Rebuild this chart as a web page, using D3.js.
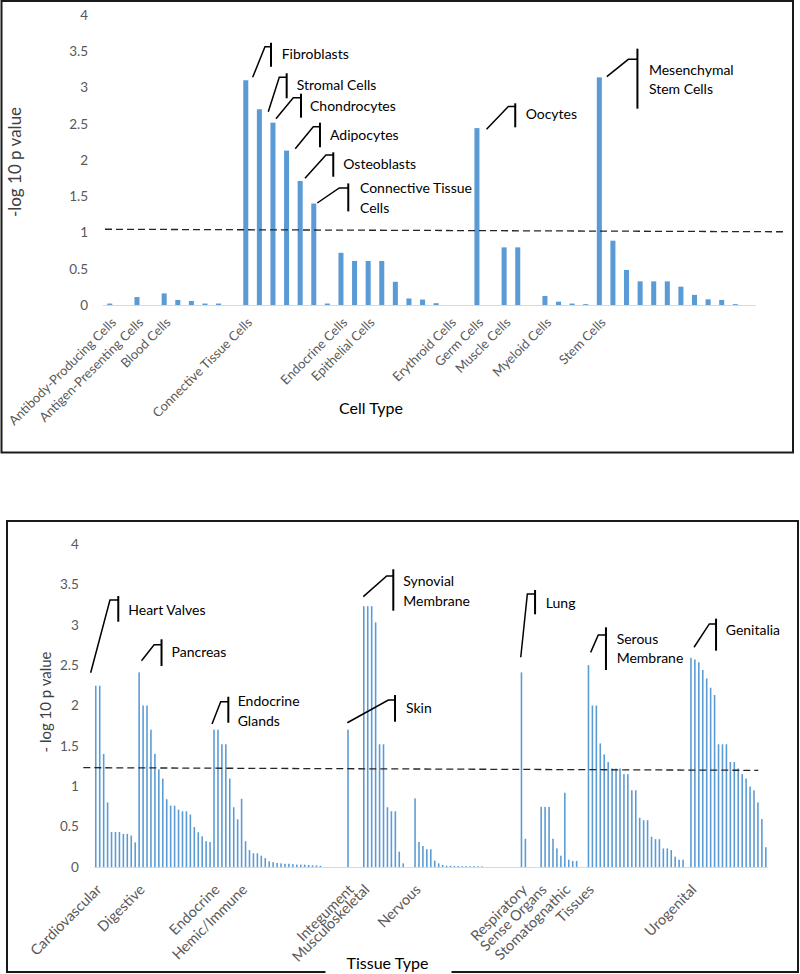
<!DOCTYPE html>
<html>
<head>
<meta charset="utf-8">
<script src="https://cdn.jsdelivr.net/npm/d3@7"></script>
<style>
  body { margin: 0; background: #fff; }
  svg { display: block; font-family: Lato, "Open Sans", sans-serif; }
</style>
</head>
<body>
<script>
// ---- data: cell types (top chart), one slot per category, null = no bar ----
const cellLabels = [
  "Antibody-Producing Cells", "", "Antigen-Presenting Cells", "", "Blood Cells", "", "", "", "", "",
  "Connective Tissue Cells", "", "", "", "", "", "", "Endocrine Cells", "", "Epithelial Cells",
  "", "", "", "", "", "Erythroid Cells", "", "Germ Cells", "", "Muscle Cells",
  "", "", "Myeloid Cells", "", "", "", "Stem Cells", "", "", "",
  "", "", "", "", "", "", "", ""
];
const cellValues = [
  0.02, null, 0.11, null, 0.16, 0.07, 0.055, 0.02, 0.02, null,
  3.10, 2.70, 2.515, 2.13, 1.71, 1.40, 0.02, 0.72, 0.607, 0.607,
  0.607, 0.32, 0.09, 0.075, 0.025, null, null, 2.44, null, 0.795,
  0.795, null, 0.125, 0.046, 0.02, 0.012, 3.14, 0.887, 0.483, 0.326,
  0.326, 0.326, 0.253, 0.14, 0.078, 0.07, 0.012, null
];
const cellThreshold = [1.045, 1.01];
const cellCalloutText = [
  [10, ["Fibroblasts"]],
  [11, ["Stromal Cells"]],
  [12, ["Chondrocytes"]],
  [13, ["Adipocytes"]],
  [14, ["Osteoblasts"]],
  [15, ["Connective Tissue", "Cells"]],
  [27, ["Oocytes"]],
  [36, ["Mesenchymal", "Stem Cells"]]
];

// ---- data: tissue types (bottom chart) ----
const tissueGroups = [
  [0, "Cardiovascular"], [11, "Digestive"], [30, "Endocrine"], [37, "Hemic/Immune"],
  [64, "Integument"], [68, "Musculoskeletal"], [81, "Nervous"], [108, "Respiratory"],
  [113, "Sense Organs"], [119, "Stomatognathic"], [125, "Tissues"], [151, "Urogenital"]
];
const tissueValues = [
  // Cardiovascular
  2.245, 2.245, 1.40, 0.80, 0.433, 0.433, 0.433, 0.41, 0.41, 0.39, 0.305,
  // Digestive
  2.41, 2.0, 2.0, 1.70, 1.40, 1.21, 1.095, 0.84, 0.76, 0.76, 0.71, 0.69, 0.69, 0.65, 0.495, 0.43, 0.38, 0.32, 0.31,
  // Endocrine
  1.70, 1.70, 1.52, 1.52, 1.095, 0.74, 0.59,
  // Hemic/Immune
  0.845, 0.32, 0.21, 0.17, 0.17, 0.14, 0.11, 0.07, 0.06, 0.05, 0.045, 0.04, 0.04, 0.035, 0.03, 0.03, 0.03, 0.025, 0.02, 0.02, 0.015,
  null, null, null, null, null, null,
  // Integument
  1.70, null, null, null,
  // Musculoskeletal
  3.23, 3.23, 3.23, 3.03, 1.52, 1.52, 0.74, 0.69, 0.69, 0.19, 0.045,
  null, null,
  // Nervous
  0.85, 0.31, 0.26, 0.22, 0.22, 0.08, 0.045, 0.025, 0.015, 0.015, 0.012, 0.012, 0.01, 0.01, 0.01, 0.01, 0.008, 0.008,
  null, null, null, null, null, null, null, null, null,
  // Respiratory
  2.41, 0.35, null, null, null,
  // Sense Organs
  0.745, 0.745, 0.745, 0.35, 0.23, 0.14,
  // Stomatognathic
  0.92, 0.09, 0.075, 0.075, null, null,
  // Tissues
  2.50, 2.0, 2.0, 1.53, 1.395, 1.30, 1.22, 1.22, 1.22, 1.15, 1.15, 0.95, 0.95, 0.61, 0.58, 0.58, 0.375, 0.345, 0.345, 0.23, 0.23, 0.21, 0.128, 0.09, 0.09,
  null,
  // Urogenital
  2.59, 2.57, 2.535, 2.44, 2.335, 2.22, 2.13, 1.52, 1.52, 1.52, 1.30, 1.30, 1.22, 1.15, 1.095, 0.995, 0.95, 0.80, 0.594, 0.245
];
const tissueThreshold = [1.23, 1.197];
const tissueCalloutText = [
  [0, ["Heart Valves"]],
  [11, ["Pancreas"]],
  [30, ["Endocrine", "Glands"]],
  [68, ["Synovial", "Membrane"]],
  [64, ["Skin"]],
  [108, ["Lung"]],
  [125, ["Serous", "Membrane"]],
  [151, ["Genitalia"]]
];

const yTicks = [0, 0.5, 1, 1.5, 2, 2.5, 3, 3.5, 4];

// ---- layout (px offsets from the bar top for each callout) ----
// [startDx, startDy, elbowDx, elbowDy, barX, barY0, barY1, textX, textY...]
const cellCalloutShape = [
  [6.9, -3, 19.2, -33.5, 25.2, -37.5, -13.5, 35.9, [-26]],
  [8.9, 2.5, 19.9, -32, 27.3, -36, -11, 37.3, [-24.3]],
  [3, -4, 20.3, -25, 28, -29, -5, 37, [-16.3]],
  [8.7, -1.9, 26.7, -23.9, 33.4, -27.9, -3.3, 43.4, [-15.6]],
  [4.8, -2.7, 25.8, -26, 33.1, -28.7, -4.3, 43.1, [-17]],
  [3.5, -0.5, 25.5, -15.5, 34.5, -20.1, 7.9, 46.2, [-15.1, 4.5]],
  [9.6, 1.2, 31.4, -21.5, 38.3, -24.8, -0.8, 48.7, [-13.8]],
  [7.5, -0.7, 29, -18, 38.1, -28.7, 31.3, 49.6, [-7.3, 11.3]]
];
const tissueCalloutShape = [
  [-5.1, -13, 14.2, -85.7, 22.5, -89.7, -64, 32.5, [-75.7]],
  [2.4, -11.7, 15, -27.7, 22.4, -33.1, -6.4, 32.4, [-20.7]],
  [-2, -5.7, 6.7, -28, 14.3, -33, -7, 23.7, [-29, -9]],
  [-0.5, -9.5, 22.9, -30.2, 29.5, -36.9, 4.5, 39.5, [-25.5, -5.5]],
  [-0.7, -7, 40.3, -29.7, 47, -34.7, -8, 58, [-21.4]],
  [-0.7, -15.1, 5.9, -78.4, 13.6, -82.4, -58.1, 24.3, [-69.7]],
  [2.2, -12.8, 9.8, -30.1, 17.5, -37.8, 4.9, 28.2, [-26.1, -6.8]],
  [3.1, -10.6, 18.4, -33.9, 25.1, -39.2, -7.2, 34.8, [-27.9]]
];

const W = 800, H = 974;
const barColor = "#5B9BD5";
const svg = d3.select("body").append("svg").attr("width", W).attr("height", H);

function drawPanel(p) {
  const g = svg.append("g");
  const n = p.values.length;

  // frame
  g.append("rect")
    .attr("x", p.frame[0]).attr("y", p.frame[1])
    .attr("width", p.frame[2]).attr("height", p.frame[3])
    .attr("fill", "none").attr("stroke", "#1a1a1a").attr("stroke-width", 2);

  const x = d3.scaleBand()
    .domain(d3.range(n))
    .range([p.x0, p.x1])
    .paddingInner(p.pad)
    .paddingOuter(p.pad / 2);
  const y = d3.scaleLinear().domain([0, 4]).range([p.base, p.top]);
  const cx = i => x(i) + x.bandwidth() / 2;

  // y axis labels only
  const yAxis = g.append("g")
    .attr("transform", `translate(${p.x0},0)`)
    .call(d3.axisLeft(y).tickValues(yTicks).tickSize(0).tickPadding(15).tickFormat(d3.format("")));
  yAxis.select(".domain").remove();
  yAxis.selectAll("text")
    .attr("fill", "#595959")
    .style("font-size", "13.5px")
    .style("font-family", "Lato, sans-serif");

  // bars
  g.append("g")
    .selectAll("rect")
    .data(p.values.map((v, i) => ({ v, i })).filter(d => d.v != null))
    .join("rect")
    .attr("x", d => x(d.i))
    .attr("width", x.bandwidth())
    .attr("y", d => y(d.v))
    .attr("height", d => y(0) - y(d.v))
    .attr("fill", barColor);

  // x axis
  const xAxis = g.append("g")
    .attr("transform", `translate(0,${p.base})`)
    .call(d3.axisBottom(x)
      .tickValues(p.labels.map(d => d[0]))
      .tickSize(0)
      .tickFormat(i => p.labels.find(d => d[0] === i)[1]));
  xAxis.select(".domain").attr("stroke", "#D9D9D9").attr("stroke-width", 1.2)
    .attr("d", `M${p.x0},0.5H${p.x1}`);
  xAxis.selectAll("text")
    .attr("x", 0).attr("y", 0).attr("dy", "0.35em")
    .attr("text-anchor", "end")
    .attr("fill", "#595959")
    .style("font-size", p.labelSize + "px")
    .style("font-family", "Lato, sans-serif")
    .attr("transform", `translate(${p.labelDx},${p.labelDy}) rotate(-45)`);

  // threshold (dashed)
  g.append("line")
    .attr("x1", p.dashX[0]).attr("x2", p.dashX[1])
    .attr("y1", y(p.threshold[0])).attr("y2", y(p.threshold[1]))
    .attr("stroke", "#262626").attr("stroke-width", 1.3)
    .attr("stroke-dasharray", "7,4");

  // callouts
  p.callouts.forEach((c, k) => {
    const s = p.shapes[k];
    const bx = cx(c[0]), by = y(p.values[c[0]]);
    const cg = g.append("g").attr("transform", `translate(${bx},${by})`);
    cg.append("path")
      .attr("d", `M${s[0]},${s[1]}L${s[2]},${s[3]}H${s[4]}`)
      .attr("fill", "none").attr("stroke", "#000").attr("stroke-width", 1.5);
    cg.append("line")
      .attr("x1", s[4]).attr("x2", s[4]).attr("y1", s[5]).attr("y2", s[6])
      .attr("stroke", "#000").attr("stroke-width", 2);
    c[1].forEach((t, j) => {
      cg.append("text")
        .attr("x", s[7]).attr("y", s[8][j]).attr("dy", "0.35em")
        .attr("fill", "#000")
        .style("font-size", "14px")
        .text(t);
    });
  });

  // y title
  g.append("text")
    .attr("transform", `translate(${p.yTitle[0]},${p.yTitle[1]}) rotate(-90)`)
    .attr("text-anchor", "middle").attr("dy", "0.35em")
    .attr("fill", "#404040")
    .style("font-size", p.yTitle[3] + "px")
    .text(p.yTitle[2]);

  // x title (with white backing so it can sit on the frame)
  const xt = g.append("g").attr("transform", `translate(${p.xTitle[0]},${p.xTitle[1]})`);
  if (p.xTitleBox) {
    xt.append("rect")
      .attr("x", p.xTitleBox[0]).attr("y", p.xTitleBox[1])
      .attr("width", p.xTitleBox[2]).attr("height", p.xTitleBox[3])
      .attr("fill", "#fff");
  }
  xt.append("text")
    .attr("text-anchor", "middle").attr("dy", "0.35em")
    .attr("fill", "#000")
    .style("font-size", "16px")
    .text(p.xTitle[2]);
}

drawPanel({
  values: cellValues,
  labels: cellLabels.map((l, i) => [i, l]).filter(d => d[1] !== ""),
  threshold: cellThreshold,
  callouts: cellCalloutText,
  shapes: cellCalloutShape,
  frame: [1.5, 1, 791.5, 451.5],
  x0: 103, x1: 755.7, pad: 0.63,
  base: 305, top: 15,
  labelSize: 13, labelDx: 4, labelDy: 15,
  dashX: [105, 783],
  yTitle: [15, 162, "-log 10 p value", 17],
  xTitle: [371, 408, "Cell Type"]
});

drawPanel({
  values: tissueValues,
  labels: tissueGroups,
  threshold: tissueThreshold,
  callouts: tissueCalloutText,
  shapes: tissueCalloutShape,
  frame: [7, 521, 791, 451],
  x0: 93.8, x1: 767.8, pad: 0.6,
  base: 867, top: 544,
  labelSize: 14.5, labelDx: 3, labelDy: 20,
  dashX: [83.3, 758.3],
  yTitle: [46, 702, "- log 10 p value", 15],
  xTitle: [387.5, 963, "Tissue Type"],
  xTitleBox: [-62, -12, 126, 24]
});
</script>
</body>
</html>
